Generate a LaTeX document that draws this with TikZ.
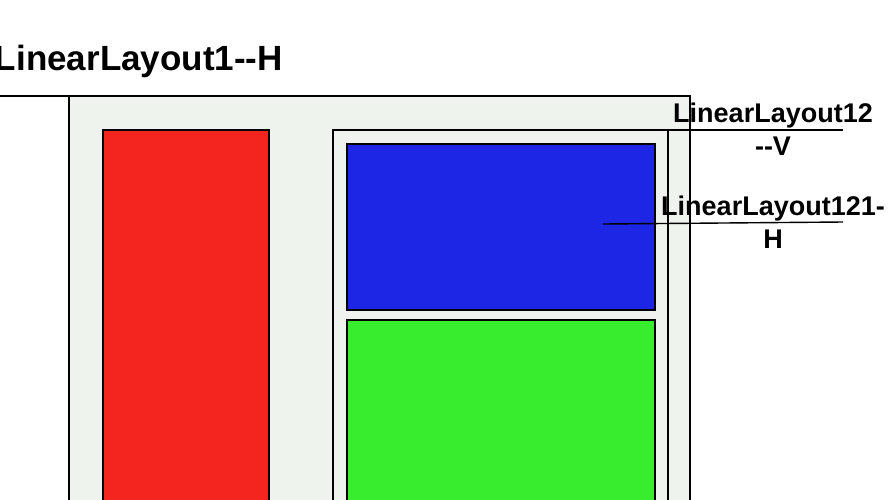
\documentclass[tikz,border=0pt]{standalone}
\usepackage{fontspec}
\setmainfont{Liberation Sans}
\definecolor{bgc}{RGB}{239,243,238}
\definecolor{redc}{RGB}{244,36,30}
\definecolor{bluec}{RGB}{28,38,228}
\definecolor{greenc}{RGB}{55,237,46}
\begin{document}
\begin{tikzpicture}[x=1pt,y=-1pt,
  boxs/.style={draw=black,line width=2pt,inner sep=0pt,outer sep=0pt,anchor=north west},
  lbl/.style={font=\fontsize{27}{33}\selectfont\bfseries,inner sep=0pt,align=center},
  thin/.style={line width=1.4pt}]
\useasboundingbox (0,0) rectangle (888,499);
\clip (0,0) rectangle (888,499);
\node[boxs,fill=bgc,minimum width=621pt,minimum height=430pt] (ll1) at (69,96) {};
\node[boxs,fill=redc,minimum width=166pt,minimum height=400pt] (red) at (103,130) {};
\node[boxs,fill=bgc,line width=1.4pt,minimum width=335pt,minimum height=400pt] (ll12) at (333,130) {};
\node[boxs,fill=bluec,minimum width=308pt,minimum height=166pt] (ll121) at (347,144) {};
\node[boxs,fill=greenc,minimum width=308pt,minimum height=200pt] (green) at (347,320) {};
\coordinate (t1) at (0,96);
\coordinate (u12) at (843,130);
\coordinate (p121) at (603,224);
\coordinate (u121) at (843,222);
\draw[line width=2pt] (t1) -- (ll1.north west);
\draw[thin] (ll12.north east) -- (u12);
\draw[thin] (p121) -- (u121);
\node[font=\fontsize{35}{40}\selectfont\bfseries,inner sep=0pt,anchor=base east] (t1lbl) at (283,70) {LinearLayout1{-}{-}H};
\node[lbl,anchor=base] (l12) at (773,155.5) {LinearLayout12\\{-}{-}V};
\node[lbl,anchor=base] (l121) at (773,248) {LinearLayout121{-}\\H};
\end{tikzpicture}
\end{document}
